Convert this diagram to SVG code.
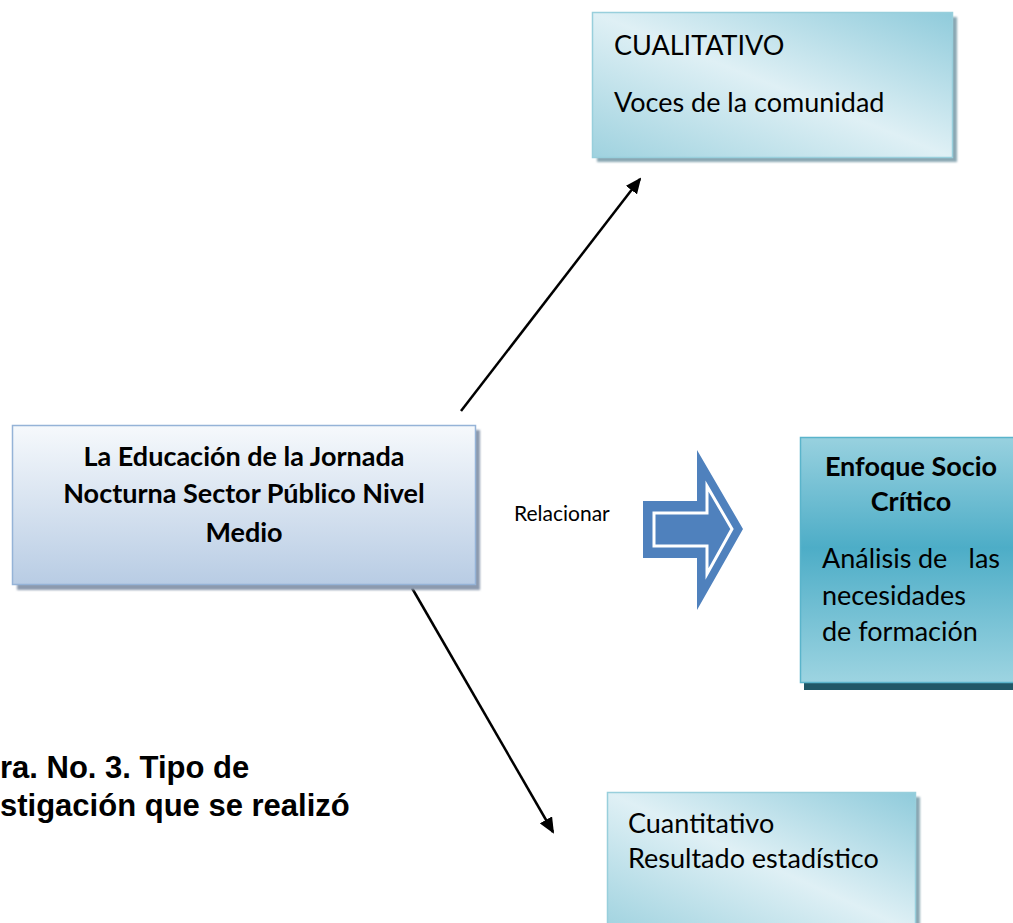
<svg xmlns="http://www.w3.org/2000/svg" width="1013" height="923" viewBox="0 0 1013 923">
<defs>
<linearGradient id="gLight" x1="0" y1="1" x2="1" y2="0">
<stop offset="0" stop-color="#9fd2df"/>
<stop offset="0.5" stop-color="#dff0f5"/>
<stop offset="1" stop-color="#8fcbdb"/>
</linearGradient>
<linearGradient id="gMain" x1="0" y1="0" x2="0" y2="1">
<stop offset="0" stop-color="#f6f9fc"/>
<stop offset="1" stop-color="#b8cce4"/>
</linearGradient>
<linearGradient id="gTeal" x1="0" y1="0" x2="0" y2="1">
<stop offset="0" stop-color="#98d1df"/>
<stop offset="0.45" stop-color="#4dadc7"/>
<stop offset="1" stop-color="#9dd4e1"/>
</linearGradient>
<marker id="ah" markerWidth="16" markerHeight="14" refX="14" refY="7" orient="auto" markerUnits="userSpaceOnUse">
<path d="M0,0 L16,7 L0,14 Z" fill="#000"/>
</marker>
<filter id="soft" x="-5%" y="-5%" width="115%" height="115%"><feGaussianBlur stdDeviation="1.2"/></filter>
</defs>
<style>
.t{font-family:Lato,"Liberation Sans",sans-serif;fill:#000;}
.b{font-weight:bold;}
.cap{font-family:"Liberation Sans",Arial,sans-serif;font-weight:bold;font-size:31px;fill:#000;}
.shadowL{fill:#8aa7b3;}
.conn{stroke:#000;stroke-width:2.5;fill:none;}
</style>

<g id="connectors">
<line class="conn" x1="461" y1="411" x2="640" y2="179" marker-end="url(#ah)"/>
<line class="conn" x1="412" y1="588" x2="553" y2="832" marker-end="url(#ah)"/>
</g>

<g id="cualitativo">
<rect x="597" y="17" width="360" height="145" class="shadowL" filter="url(#soft)"/>
<rect x="592.5" y="12.5" width="360" height="145" fill="url(#gLight)" stroke="#98cfdc" stroke-width="1.5"/>
<text class="t" x="614" y="55" font-size="27">CUALITATIVO</text>
<text class="t" x="614" y="112" font-size="27">Voces de la comunidad</text>
</g>

<g id="main">
<rect x="17" y="430" width="463" height="160" fill="#8c9aae" filter="url(#soft)"/>
<rect x="12.5" y="425.5" width="463" height="159" fill="url(#gMain)" stroke="#95b3d7" stroke-width="1.5"/>
<text class="t b" x="244" y="466" font-size="27" text-anchor="middle">La Educación de la Jornada</text>
<text class="t b" x="244" y="503" font-size="27" text-anchor="middle">Nocturna Sector Público Nivel</text>
<text class="t b" x="244" y="542" font-size="27" text-anchor="middle">Medio</text>
</g>

<g id="relacionar">
<text class="t" x="514" y="521" font-size="21">Relacionar</text>
</g>

<g id="arrow">
<polygon points="643,501 697,501 697,450 743,529 697,610 697,558 643,558" fill="#4f81bd"/>
<polygon points="654,513 707,513 707,486 732,529 707,574 707,546 654,546" fill="#4f81bd" stroke="#ffffff" stroke-width="3"/>
</g>

<g id="enfoque">
<rect x="804" y="442" width="215" height="248" fill="#205867"/>
<rect x="800.5" y="437.5" width="220" height="245" fill="url(#gTeal)" stroke="#5ab4cb" stroke-width="1.5"/>
<text class="t b" x="911" y="476" font-size="27" text-anchor="middle">Enfoque Socio</text>
<text class="t b" x="911" y="511" font-size="27" text-anchor="middle">Crítico</text>
<text class="t" font-size="27" y="568"><tspan x="822">Análisis</tspan><tspan x="918">de</tspan><tspan x="1000" text-anchor="end">las</tspan></text>
<text class="t" x="822" y="605" font-size="27">necesidades</text>
<text class="t" x="822" y="641" font-size="27">de formación</text>
</g>

<g id="cuantitativo">
<rect x="612" y="797" width="308" height="140" class="shadowL" filter="url(#soft)"/>
<rect x="607.5" y="792.5" width="308" height="140" fill="url(#gLight)" stroke="#98cfdc" stroke-width="1.5"/>
<text class="t" x="628" y="833" font-size="27">Cuantitativo</text>
<text class="t" x="628" y="868" font-size="27">Resultado estadístico</text>
</g>

<g id="caption">
<text class="cap" x="0" y="778">ra. No. 3. Tipo de</text>
<text class="cap" x="0" y="816">stigación que se realizó</text>
</g>
</svg>
